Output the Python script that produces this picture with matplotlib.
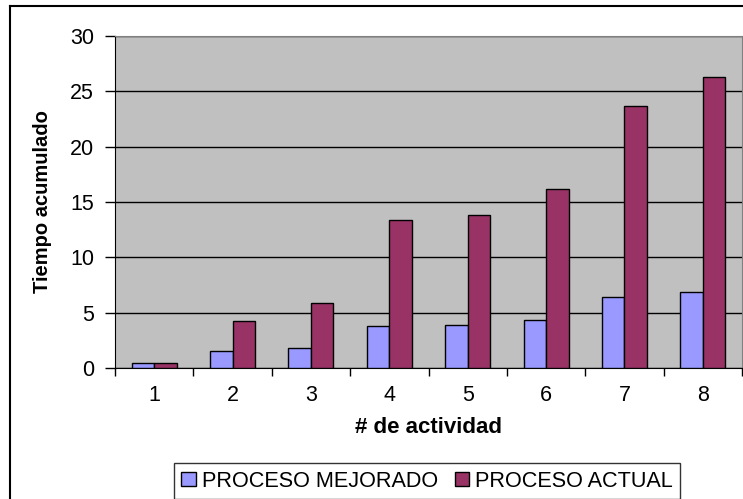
import matplotlib
matplotlib.use("Agg")
import matplotlib.pyplot as plt
import numpy as np
from matplotlib.lines import Line2D

plt.rcParams['font.family'] = ['Liberation Sans', 'DejaVu Sans']

actividades = ["1", "2", "3", "4", "5", "6", "7", "8"]
mejorado = [0.45, 1.5, 1.85, 3.8, 3.85, 4.35, 6.4, 6.9]
actual = [0.45, 4.25, 5.85, 13.35, 13.8, 16.2, 23.7, 26.3]

fig = plt.figure(figsize=(7.43, 4.99), dpi=100)
ax = fig.add_axes([115/743, 1-368/499, 627/743, 332/499])
ax.set_facecolor("#C0C0C0")

x = np.arange(1, len(actividades) + 1)
w = 0.287
ax.bar(x - w/2, mejorado, w, color="#9999FF", edgecolor="black", linewidth=1, label="PROCESO MEJORADO", zorder=3)
ax.bar(x + w/2, actual, w, color="#993366", edgecolor="black", linewidth=1, label="PROCESO ACTUAL", zorder=3)

ax.set_xlim(0.5, 8.5)
ax.set_ylim(0, 30)
ax.set_yticks(range(0, 31, 5))
ax.yaxis.grid(True, color="black", linewidth=1, zorder=1)
ax.set_axisbelow(True)

# labels in the middle, marks between the groups
ax.set_xticks(x)
ax.set_xticklabels(actividades)
ax.set_xticks(np.arange(0.5, 9, 1), minor=True)
ax.tick_params(axis="x", which="major", length=0, pad=12, labelsize=15.5)
ax.tick_params(axis="x", which="minor", length=6, width=1, direction="out")
ax.tick_params(axis="y", length=7, width=1, pad=8, labelsize=15.5)

for s in ["top", "right"]:
    ax.spines[s].set_color("#808080")
for s in ["left", "bottom"]:
    ax.spines[s].set_color("black")

ax.set_ylabel("Tiempo acumulado", fontsize=14.5, fontweight="bold", labelpad=13)
ax.set_xlabel("# de actividad", fontsize=16, fontweight="bold", labelpad=8)

leg = ax.legend(loc="center", bbox_to_anchor=(0.5747, 0.036), bbox_transform=fig.transFigure,
                ncol=2, fontsize=15.6, frameon=True, fancybox=False, handlelength=0.65,
                handleheight=0.65, handletextpad=0.28, columnspacing=0.78, borderpad=0.35)
leg.get_frame().set_edgecolor("black")
leg.get_frame().set_linewidth(1)

# outer chart border (left and top edges)
fig.add_artist(Line2D([10/743, 10/743], [0, 1-6/499], color="black", linewidth=1.5, transform=fig.transFigure))
fig.add_artist(Line2D([10/743, 1], [1-6/499, 1-6/499], color="black", linewidth=1.5, transform=fig.transFigure))

fig.savefig("out.png", dpi=100)
